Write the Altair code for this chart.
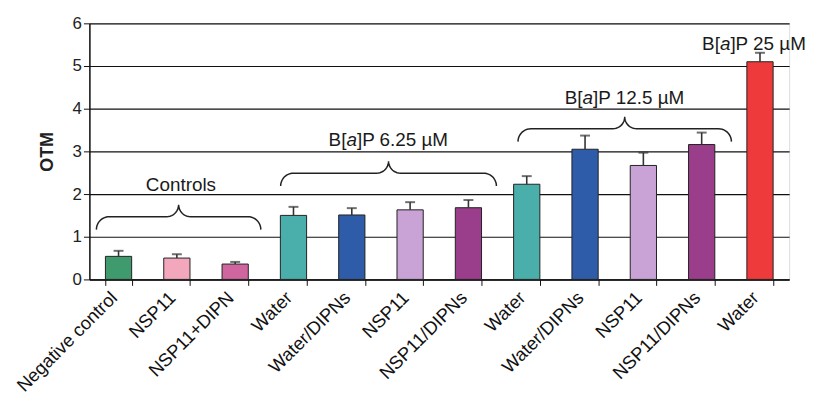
import altair as alt
import pandas as pd
import numpy as np

# ---------------- data ----------------
labels = ["Negative control", "NSP11", "NSP11+DIPN", "Water", "Water/DIPNs", "NSP11",
          "NSP11/DIPNs", "Water", "Water/DIPNs", "NSP11", "NSP11/DIPNs", "Water"]
otm = [0.54, 0.50, 0.36, 1.50, 1.51, 1.63, 1.68, 2.23, 3.05, 2.67, 3.16, 5.10]
err_top = [0.67, 0.59, 0.41, 1.70, 1.67, 1.81, 1.86, 2.42, 3.37, 2.97, 3.44, 5.31]
colors = ["#3f9a6e", "#f2a7bd", "#d066a0", "#4aafaa", "#2f5ca8", "#c9a3d6",
          "#9a3d8a", "#4aafaa", "#2f5ca8", "#c9a3d6", "#9a3d8a", "#ee3a3a"]

# brace groups (in category units along x, OTM units along y)
brace_x0 = [0.12, 3.28, 7.35]
brace_x1 = [2.94, 6.98, 11.01]
brace_y = [1.47, 2.49, 3.53]

# annotation labels
ann_plain = ["Controls"]
ann_plain_x = [1.57]
ann_plain_y = [2.22]
ann_bap_suffix = ["]P 6.25 \u00b5M", "]P 12.5 \u00b5M", "]P 25 \u00b5M"]
ann_bap_x = [5.13, 9.18, 11.40]
ann_bap_y = [3.27, 4.26, 5.52]

# ---------------- layout ----------------
W, H = 705, 258
NCAT = len(labels)
YMAX = 6
PX_X = W / NCAT
PX_Y = H / YMAX
FONT = "Liberation Sans"
ANN_SIZE = 19

df = pd.DataFrame({"idx": list(range(NCAT)), "otm": otm, "err": err_top, "color": colors})

label_js = "[" + ",".join("'" + l + "'" for l in labels) + "]"
x_enc = alt.X("idx:O", title=None,
              scale=alt.Scale(paddingInner=0.55, paddingOuter=0.275),
              axis=alt.Axis(labelExpr=label_js + "[datum.value]", labelAngle=-45,
                            labelAlign="right", labelBaseline="middle",
                            labelFontSize=18.5, labelColor="#111", labelFont=FONT,
                            labelPadding=9, labelOffset=-5, tickBand="extent", tickSize=6,
                            tickColor="#111", domainColor="#111", domainWidth=1.5,
                            grid=False))
y_scale = alt.Scale(domain=[0, YMAX], nice=False)
y_enc = alt.Y("otm:Q", scale=y_scale, title="OTM",
              axis=alt.Axis(values=list(range(YMAX + 1)), grid=True, gridColor="#111",
                            gridWidth=1.2, domainColor="#111", domainWidth=1.5,
                            tickColor="#111", tickSize=6, labelFontSize=17,
                            labelColor="#222", labelFont=FONT, labelPadding=2,
                            titleFont=FONT, titleFontSize=18, titleFontWeight="bold",
                            titleColor="#222", titlePadding=16))

base = alt.Chart(df)
bars = base.mark_bar(stroke="#222", strokeWidth=1).encode(
    x=x_enc, y=y_enc, color=alt.Color("color:N", scale=None))
err_rule = base.mark_rule(color="#333", strokeWidth=1.6).encode(
    x="idx:O", y="otm:Q", y2="err:Q")
err_cap = base.mark_tick(color="#333", size=10, thickness=2).encode(
    x="idx:O", y="err:Q")
main = alt.layer(bars, err_rule, err_cap)

# ---------------- braces ----------------
R_END, R_MID, N = 13.0, 12.0, 12
rows = []
for g, (a, b, yh) in enumerate(zip(brace_x0, brace_x1, brace_y)):
    X0, X1, YH = a * PX_X, b * PX_X, yh * PX_Y
    XC = (X0 + X1) / 2
    pts = []
    for t in np.linspace(np.pi, np.pi / 2, N):
        pts.append((X0 + R_END + R_END * np.cos(t), YH - R_END + R_END * np.sin(t)))
    for t in np.linspace(-np.pi / 2, 0, N):
        pts.append((XC - R_MID + R_MID * np.cos(t), YH + R_MID + R_MID * np.sin(t)))
    for t in np.linspace(np.pi, 1.5 * np.pi, N):
        pts.append((XC + R_MID + R_MID * np.cos(t), YH + R_MID + R_MID * np.sin(t)))
    for t in np.linspace(np.pi / 2, 0, N):
        pts.append((X1 - R_END + R_END * np.cos(t), YH - R_END + R_END * np.sin(t)))
    for k, (px, py) in enumerate(pts):
        rows.append({"grp": g, "ord": k, "bx": px / PX_X, "by": py / PX_Y})
bdf = pd.DataFrame(rows)

xq = alt.Scale(domain=[0, NCAT], nice=False, zero=False)
braces = alt.Chart(bdf).mark_line(color="#222", strokeWidth=1.5).encode(
    x=alt.X("bx:Q", scale=xq, axis=None),
    y=alt.Y("by:Q", scale=y_scale),
    detail="grp:N", order="ord:Q")

# ---------------- annotation text ----------------
W_EM = {"B": 0.667, "[": 0.278, "a": 0.556, "]": 0.278, "P": 0.667, " ": 0.278,
        ".": 0.278, "\u00b5": 0.576, "M": 0.833}
def tw(s):
    return sum(W_EM.get(c, 0.556) for c in s) * ANN_SIZE

plain_df = pd.DataFrame({"tx": ann_plain_x, "ty": ann_plain_y, "t": ann_plain})
norm_rows, ital_rows = [], []
for s, cx, cy in zip(ann_bap_suffix, ann_bap_x, ann_bap_y):
    total = tw("B[") + tw("a") + tw(s)
    left = cx * PX_X - total / 2
    norm_rows.append({"tx": left / PX_X, "ty": cy, "t": "B["})
    ital_rows.append({"tx": (left + tw("B[")) / PX_X, "ty": cy, "t": "a"})
    norm_rows.append({"tx": (left + tw("B[") + tw("a")) / PX_X, "ty": cy, "t": s})
norm_df = pd.DataFrame(norm_rows)
ital_df = pd.DataFrame(ital_rows)

def txt(d, align, style="normal"):
    return alt.Chart(d).mark_text(font=FONT, fontSize=ANN_SIZE, color="#1a1a1a",
                                  align=align, baseline="middle", fontStyle=style).encode(
        x=alt.X("tx:Q", scale=xq, axis=None),
        y=alt.Y("ty:Q", scale=y_scale),
        text="t:N")

annot = alt.layer(braces, txt(plain_df, "center"), txt(norm_df, "left"),
                  txt(ital_df, "left", "italic"))

chart = alt.layer(main, annot).resolve_scale(x="independent").properties(
    width=W, height=H,
    autosize=alt.AutoSizeParams(type="none"),
    padding={"left": 82, "top": 14, "right": 20, "bottom": 115},
).configure_view(stroke="#888", strokeWidth=1).configure(background="white")

chart.save("out.html", embed_options={"renderer": "svg", "actions": False})
